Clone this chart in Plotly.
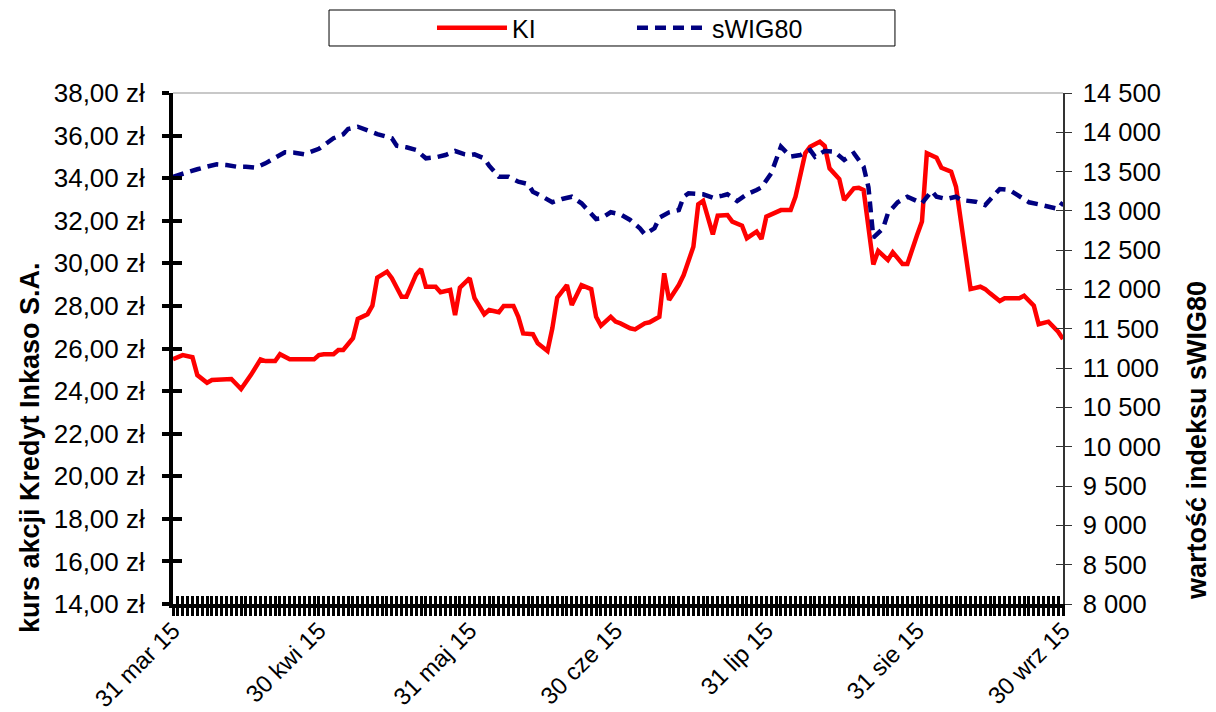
import plotly.graph_objects as go

# ---------------- data ----------------
ki_dates = [
    "2015-03-31", "2015-04-02", "2015-04-04", "2015-04-05", "2015-04-07", "2015-04-08",
    "2015-04-12", "2015-04-14", "2015-04-16", "2015-04-18", "2015-04-19", "2015-04-21",
    "2015-04-22", "2015-04-24", "2015-04-29", "2015-04-30", "2015-05-01", "2015-05-03",
    "2015-05-04", "2015-05-05", "2015-05-07", "2015-05-08", "2015-05-10", "2015-05-11",
    "2015-05-12", "2015-05-14", "2015-05-15", "2015-05-17", "2015-05-18", "2015-05-20",
    "2015-05-21", "2015-05-22", "2015-05-24", "2015-05-25", "2015-05-27", "2015-05-28",
    "2015-05-29", "2015-05-31", "2015-06-01", "2015-06-03", "2015-06-04", "2015-06-06",
    "2015-06-07", "2015-06-09", "2015-06-10", "2015-06-11", "2015-06-13", "2015-06-14",
    "2015-06-16", "2015-06-17", "2015-06-18", "2015-06-20", "2015-06-21", "2015-06-23",
    "2015-06-25", "2015-06-26", "2015-06-27", "2015-06-29", "2015-06-30", "2015-07-01",
    "2015-07-03", "2015-07-04", "2015-07-06", "2015-07-07", "2015-07-09", "2015-07-10",
    "2015-07-11", "2015-07-13", "2015-07-14", "2015-07-16", "2015-07-17", "2015-07-18",
    "2015-07-20", "2015-07-21", "2015-07-23", "2015-07-24", "2015-07-26", "2015-07-27",
    "2015-07-29", "2015-07-30", "2015-07-31", "2015-08-02", "2015-08-03", "2015-08-05",
    "2015-08-06", "2015-08-08", "2015-08-09", "2015-08-11", "2015-08-12", "2015-08-13",
    "2015-08-15", "2015-08-16", "2015-08-18", "2015-08-19", "2015-08-20", "2015-08-22",
    "2015-08-23", "2015-08-25", "2015-08-26", "2015-08-28", "2015-08-29", "2015-08-31",
    "2015-09-01", "2015-09-02", "2015-09-04", "2015-09-05", "2015-09-07", "2015-09-08",
    "2015-09-10", "2015-09-11", "2015-09-13", "2015-09-14", "2015-09-15", "2015-09-17",
    "2015-09-18", "2015-09-21", "2015-09-22", "2015-09-24", "2015-09-25", "2015-09-27",
    "2015-09-29", "2015-09-30",
]
ki_values = [
    25.50, 25.69, 25.59, 24.75, 24.39, 24.52,
    24.57, 24.10, 24.75, 25.49, 25.41, 25.41,
    25.73, 25.49, 25.49, 25.69, 25.73, 25.73,
    25.93, 25.93, 26.48, 27.39, 27.61, 28.01,
    29.33, 29.61, 29.30, 28.43, 28.43, 29.48,
    29.73, 28.90, 28.90, 28.64, 28.75, 27.57,
    28.86, 29.30, 28.36, 27.61, 27.81, 27.70,
    28.00, 28.00, 27.49, 26.71, 26.67, 26.24,
    25.88, 26.95, 28.39, 28.98, 28.04, 28.98,
    28.79, 27.49, 27.07, 27.49, 27.26, 27.18,
    26.95, 26.90, 27.18, 27.23, 27.49, 29.53,
    28.28, 28.98, 29.45, 30.78, 32.77, 32.93,
    31.36, 32.24, 32.27, 31.96, 31.77, 31.18,
    31.49, 31.14, 32.19, 32.43, 32.50, 32.50,
    33.13, 35.17, 35.48, 35.71, 35.51, 34.46,
    33.96, 32.97, 33.52, 33.55, 33.44, 29.95,
    30.58, 30.16, 30.52, 29.97, 29.97, 31.33,
    31.96, 35.17, 34.96, 34.49, 34.30, 33.60,
    30.39, 28.79, 28.90, 28.79, 28.59, 28.23,
    28.36, 28.36, 28.48, 28.01, 27.14, 27.26,
    26.79, 26.45,
]

swig_dates = [
    "2015-03-31", "2015-04-02", "2015-04-05", "2015-04-07", "2015-04-09", "2015-04-11",
    "2015-04-13", "2015-04-15", "2015-04-17", "2015-04-19", "2015-04-21", "2015-04-23",
    "2015-04-25", "2015-04-27", "2015-04-30", "2015-05-03", "2015-05-05", "2015-05-06",
    "2015-05-08", "2015-05-10", "2015-05-12", "2015-05-15", "2015-05-16", "2015-05-18",
    "2015-05-20", "2015-05-22", "2015-05-24", "2015-05-26", "2015-05-28", "2015-05-30",
    "2015-05-31", "2015-06-01", "2015-06-03", "2015-06-04", "2015-06-06", "2015-06-08",
    "2015-06-10", "2015-06-12", "2015-06-13", "2015-06-15", "2015-06-17", "2015-06-19",
    "2015-06-21", "2015-06-23", "2015-06-24", "2015-06-26", "2015-06-27", "2015-06-29",
    "2015-07-01", "2015-07-03", "2015-07-05", "2015-07-06", "2015-07-08", "2015-07-09",
    "2015-07-11", "2015-07-13", "2015-07-14", "2015-07-15", "2015-07-18", "2015-07-20",
    "2015-07-22", "2015-07-23", "2015-07-25", "2015-07-27", "2015-07-29", "2015-07-30",
    "2015-08-01", "2015-08-02", "2015-08-03", "2015-08-05", "2015-08-07", "2015-08-09",
    "2015-08-10", "2015-08-12", "2015-08-14", "2015-08-16", "2015-08-18", "2015-08-20",
    "2015-08-21", "2015-08-22", "2015-08-24", "2015-08-25", "2015-08-27", "2015-08-29",
    "2015-08-30", "2015-09-01", "2015-09-03", "2015-09-04", "2015-09-06", "2015-09-08",
    "2015-09-09", "2015-09-12", "2015-09-14", "2015-09-16", "2015-09-17", "2015-09-19",
    "2015-09-21", "2015-09-23", "2015-09-25", "2015-09-27", "2015-09-29", "2015-09-30",
]
swig_values = [
    13435, 13479, 13530, 13563, 13593, 13584,
    13563, 13563, 13550, 13605, 13669, 13746,
    13741, 13720, 13790, 13924, 13975, 14042,
    14071, 14017, 13978, 13924, 13830, 13809,
    13775, 13669, 13682, 13711, 13762, 13720,
    13711, 13720, 13669, 13575, 13435, 13435,
    13372, 13342, 13245, 13181, 13110, 13152,
    13181, 13097, 13034, 12897, 12906, 12983,
    12957, 12885, 12779, 12703, 12779, 12914,
    12983, 13012, 13181, 13224, 13212, 13168,
    13194, 13212, 13126, 13212, 13266, 13300,
    13479, 13669, 13817, 13690, 13711, 13775,
    13690, 13762, 13753, 13648, 13733, 13563,
    13300, 12660, 12779, 12970, 13110, 13181,
    13150, 13097, 13253, 13181, 13152, 13181,
    13139, 13118, 13075, 13224, 13279, 13266,
    13181, 13110, 13084, 13054, 13025, 13110,
]

month_tick_dates = ["2015-03-31", "2015-04-30", "2015-05-31", "2015-06-30",
                    "2015-07-31", "2015-08-31", "2015-09-30"]
month_tick_labels = ["31 mar 15", "30 kwi 15", "31 maj 15", "30 cze 15",
                     "31 lip 15", "31 sie 15", "30 wrz 15"]

left_title = "kurs akcji Kredyt Inkaso S.A."
right_title = "wartość indeksu sWIG80"

# ---------------- figure ----------------
FONT = "Arial, 'Liberation Sans', sans-serif"
LEFT_TICK_SIZE = 26
RIGHT_TICK_SIZE = 25.5
X_TICK_SIZE = 24
LEGEND_SIZE = 25
TITLE_SIZE = 27
DAY_MS = 86400000
X_RANGE = ["2015-03-31", "2015-09-30"]

fig = go.Figure()
fig.add_trace(go.Scatter(
    x=ki_dates, y=ki_values, name="KI", mode="lines",
    line=dict(color="#FF0000", width=4.5), yaxis="y", xaxis="x",
))
fig.add_trace(go.Scatter(
    x=swig_dates, y=swig_values, name="sWIG80", mode="lines",
    line=dict(color="#000080", width=4.5, dash="11px,7px"), yaxis="y2", xaxis="x",
))
# empty helper traces so the overlay axes (for crossing tick marks) get drawn
fig.add_trace(go.Scatter(x=[None], y=[None], xaxis="x3", yaxis="y3",
                         showlegend=False, hoverinfo="skip"))
fig.add_trace(go.Scatter(x=[None], y=[None], xaxis="x", yaxis="y4",
                         showlegend=False, hoverinfo="skip"))

fig.update_layout(
    width=1216, height=712,
    # the page body adds an 8px offset; margins compensate so the plot area
    # sits at x 173..1063, y 93..604 in the window
    margin=dict(l=165, r=161, t=85, b=116, autoexpand=False),
    paper_bgcolor="white", plot_bgcolor="white",
    separators=", ",
    font=dict(family=FONT, size=LEGEND_SIZE, color="black"),
    showlegend=True,
    legend=dict(
        orientation="h", x=0.291, xanchor="left", y=1.127, yanchor="middle",
        bgcolor="rgba(0,0,0,0)", borderwidth=0,
        itemwidth=70, entrywidth=115, entrywidthmode="pixels",
        font=dict(family=FONT, size=LEGEND_SIZE, color="black"),
    ),
    xaxis=dict(
        type="date", range=X_RANGE, automargin=False,
        tickmode="array", tickvals=month_tick_dates, ticktext=month_tick_labels,
        tickangle=-45, ticks="outside", ticklen=8, tickwidth=2.5, tickcolor="black",
        ticklabelstandoff=-9,
        minor=dict(dtick=DAY_MS, tick0="2015-03-31", ticks="outside", ticklen=8,
                   tickwidth=2.5, tickcolor="black", showgrid=False),
        showline=True, linecolor="black", linewidth=4,
        showgrid=False, zeroline=False,
        tickfont=dict(family=FONT, size=X_TICK_SIZE, color="black"),
    ),
    xaxis3=dict(
        type="date", range=X_RANGE, overlaying="x", anchor="y", side="bottom",
        automargin=False,
        tickmode="array", tickvals=month_tick_dates, ticktext=[""] * len(month_tick_dates),
        ticks="inside", ticklen=8, tickwidth=2.5, tickcolor="black",
        minor=dict(dtick=DAY_MS, tick0="2015-03-31", ticks="inside", ticklen=8,
                   tickwidth=2.5, tickcolor="black", showgrid=False),
        showticklabels=False, showline=False, showgrid=False, zeroline=False,
    ),
    yaxis=dict(
        range=[14, 38], dtick=2, tick0=14, tickformat=".2f", ticksuffix=" zł",
        automargin=False,
        ticks="outside", ticklen=7, tickwidth=3.5, tickcolor="black",
        showline=True, linecolor="black", linewidth=4,
        showgrid=False, zeroline=False, ticklabelstandoff=12,
        tickfont=dict(family=FONT, size=LEFT_TICK_SIZE, color="black"),
    ),
    yaxis3=dict(
        range=[14, 38], dtick=2, tick0=14, overlaying="y", anchor="x3", side="left",
        automargin=False,
        ticks="inside", ticklen=9, tickwidth=3.5, tickcolor="black",
        showticklabels=False, showline=False, showgrid=False, zeroline=False,
    ),
    yaxis2=dict(
        range=[8000, 14500], dtick=500, tick0=8000, tickformat=",d",
        overlaying="y", side="right", anchor="x", automargin=False,
        ticks="outside", ticklen=7, tickwidth=1, tickcolor="#333333",
        showline=True, linecolor="#333333", linewidth=1.5,
        showgrid=False, zeroline=False, ticklabelstandoff=6,
        tickfont=dict(family=FONT, size=RIGHT_TICK_SIZE, color="black"),
    ),
    yaxis4=dict(
        range=[8000, 14500], dtick=500, tick0=8000,
        overlaying="y", side="right", anchor="x", automargin=False,
        ticks="inside", ticklen=7, tickwidth=1, tickcolor="#333333",
        showticklabels=False, showline=False, showgrid=False, zeroline=False,
    ),
    shapes=[
        # legend frame
        dict(type="rect", xref="paper", yref="paper",
             x0=0.1753, x1=0.8112, y0=1.092, y1=1.1624,
             line=dict(color="black", width=1), fillcolor="white", layer="below"),
        # light top border of plot area
        dict(type="line", xref="paper", yref="paper", x0=0, x1=1, y0=1, y1=1,
             line=dict(color="#C8C8C8", width=2)),
    ],
    annotations=[
        dict(text="<b>" + left_title + "</b>", xref="paper", yref="paper",
             x=-0.1607, y=0.307, textangle=-90, showarrow=False,
             xanchor="center", yanchor="middle",
             font=dict(family=FONT, size=TITLE_SIZE, color="black")),
        dict(text="<b>" + right_title + "</b>", xref="paper", yref="paper",
             x=1.1506, y=0.319, textangle=-90, showarrow=False,
             xanchor="center", yanchor="middle",
             font=dict(family=FONT, size=TITLE_SIZE, color="black")),
    ],
)

fig.write_html("out.html")
